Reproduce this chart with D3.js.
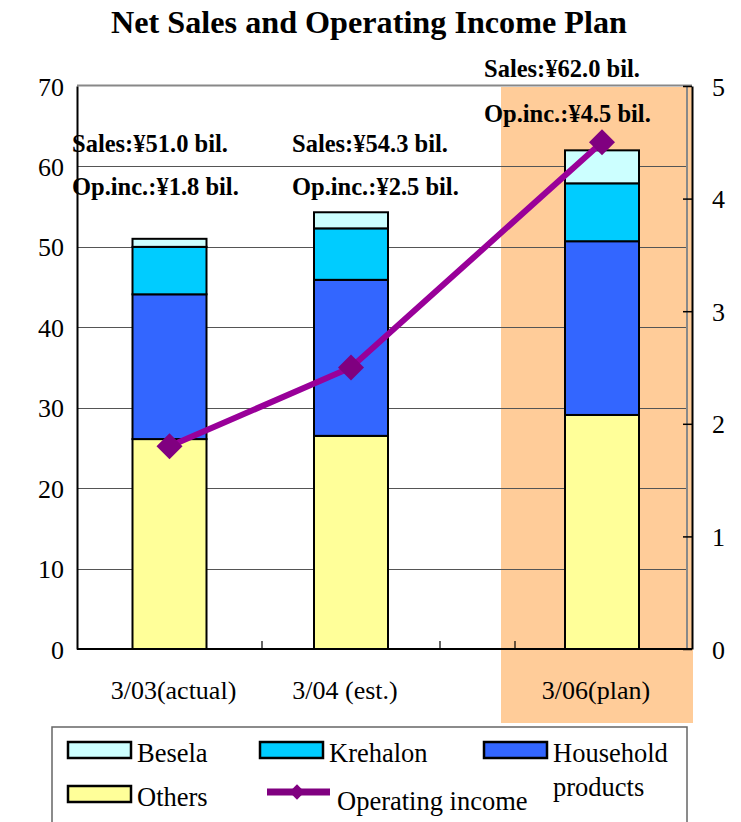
<!DOCTYPE html>
<html>
<head>
<meta charset="utf-8">
<script src="https://cdn.jsdelivr.net/npm/d3@7"></script>
<style>
  html, body { margin: 0; padding: 0; background: #fff; }
  svg { display: block; }
  text { font-family: "Liberation Serif", "Times New Roman", serif; fill: #000; }
</style>
</head>
<body>
<svg id="chart" width="741" height="822"></svg>
<script>
// ---- data (¥ billion) ----
const categories = ["3/03(actual)", "3/04 (est.)", "3/06(plan)"];
const others     = [26.1, 26.5, 29.1];
const household  = [18.0, 19.4, 21.6];
const krehalon   = [5.9, 6.4, 7.2];
const besela     = [1.0, 2.0, 4.1];
const opIncome   = [1.8, 2.5, 4.5];
const leftTicks  = [0, 10, 20, 30, 40, 50, 60, 70];
const rightTicks = [0, 1, 2, 3, 4, 5];

const seriesKeys   = ["others", "household", "krehalon", "besela"];
const seriesNames  = { besela: "Besela", krehalon: "Krehalon", household: "Household products", others: "Others" };
const seriesColors = { others: "#FFFF99", household: "#3366FF", krehalon: "#00CCFF", besela: "#CCFFFF" };
const lineColor = "#990099", markerColor = "#800080", planColor = "#FFCC99";

const rows = categories.map((c, i) => ({
  cat: c, others: others[i], household: household[i], krehalon: krehalon[i], besela: besela[i], op: opIncome[i]
}));

// ---- layout ----
const svg = d3.select("#chart");
const plot = { left: 77, right: 689, top: 86, bottom: 649 };

// category slots along the x axis (a narrow empty slot sits before the plan year)
const slots = [
  { key: categories[0], w: 185 },
  { key: categories[1], w: 178 },
  { key: null,          w: 75 },
  { key: categories[2], w: 174 }
];
let acc = 0;
slots.forEach(s => { s.start = acc; acc += s.w; s.end = acc; s.mid = (s.start + s.end) / 2; });
const x = d3.scaleLinear().domain([0, acc]).range([plot.left, plot.right]);
const slotOf = k => slots.find(s => s.key === k);
const xc = k => x(slotOf(k).mid);
const barW = x(74) - x(0);
const labelShift = [4, -6, -6];

const y  = d3.scaleLinear().domain([0, 70]).range([plot.bottom, plot.top]);
const y2 = d3.scaleLinear().domain([0, 5]).range([plot.bottom, plot.top]);

// title
svg.append("text").attr("x", 369).attr("y", 33).attr("text-anchor", "middle")
  .style("font-size", "32.2px").style("font-weight", "bold")
  .text("Net Sales and Operating Income Plan");

// highlight band behind the plan year
const planSlot = slotOf(categories[2]);
svg.append("rect")
  .attr("x", x(planSlot.start) - 14).attr("y", plot.top + 1)
  .attr("width", x(planSlot.end) - x(planSlot.start) + 18)
  .attr("height", 723 - plot.top - 1)
  .attr("fill", planColor);

// horizontal gridlines
svg.append("g").selectAll("line").data(leftTicks.filter(t => t > 0 && t < 70)).join("line")
  .attr("x1", plot.left).attr("x2", plot.right - 2)
  .attr("y1", d => Math.round(y(d)) + 0.5).attr("y2", d => Math.round(y(d)) + 0.5)
  .attr("stroke", "#555").attr("stroke-width", 1.2);

// plot frame (top and right edges)
svg.append("line").attr("x1", plot.left).attr("x2", plot.right + 3)
  .attr("y1", plot.top - 0.5).attr("y2", plot.top - 0.5)
  .attr("stroke", "#888").attr("stroke-width", 2);
svg.append("line").attr("x1", plot.right - 2).attr("x2", plot.right - 2)
  .attr("y1", plot.top).attr("y2", plot.bottom)
  .attr("stroke", "#888").attr("stroke-width", 2);

// stacked bars
const stack = d3.stack().keys(seriesKeys)(rows);
svg.append("g").selectAll("g").data(stack).join("g")
  .attr("fill", d => seriesColors[d.key])
  .selectAll("rect").data(d => d).join("rect")
  .attr("x", d => xc(d.data.cat) - barW / 2)
  .attr("y", d => y(d[1]))
  .attr("width", barW)
  .attr("height", d => y(d[0]) - y(d[1]))
  .attr("stroke", "#000").attr("stroke-width", 2);

// left axis
const leftAxis = svg.append("g").attr("transform", `translate(${plot.left},0)`)
  .call(d3.axisLeft(y).tickValues(leftTicks).tickSize(0).tickPadding(13));
leftAxis.select(".domain").attr("stroke", "#000").attr("stroke-width", 2);
leftAxis.selectAll("text").style("font-size", "26px")
  .style("font-family", "'Liberation Serif', serif").attr("dy", "0.35em");

// right axis
const rightAxis = svg.append("g").attr("transform", `translate(${plot.right + 3},0)`)
  .call(d3.axisRight(y2).tickValues(rightTicks).tickFormat(d3.format("d")).tickSize(0).tickPadding(20));
rightAxis.select(".domain").attr("stroke", "#000").attr("stroke-width", 2);
rightAxis.selectAll(".tick").append("line")
  .attr("x1", -9).attr("x2", 0).attr("stroke", "#000").attr("stroke-width", 1.5);
rightAxis.selectAll("text").style("font-size", "26px")
  .style("font-family", "'Liberation Serif', serif").attr("dy", "0.35em");

// bottom axis: category labels plus boundary ticks
svg.append("line").attr("x1", plot.left).attr("x2", plot.right + 3)
  .attr("y1", plot.bottom).attr("y2", plot.bottom)
  .attr("stroke", "#000").attr("stroke-width", 2);
svg.append("g").selectAll("line").data(slots.slice(0, -1)).join("line")
  .attr("x1", d => x(d.end)).attr("x2", d => x(d.end))
  .attr("y1", plot.bottom).attr("y2", plot.bottom - 8)
  .attr("stroke", "#000").attr("stroke-width", 1.2);
svg.append("g").selectAll("text").data(categories).join("text")
  .attr("x", (d, i) => xc(d) + labelShift[i]).attr("y", 699)
  .attr("text-anchor", "middle").style("font-size", "26px")
  .text(d => d);

// operating income line with diamond markers
svg.append("path").datum(rows)
  .attr("fill", "none").attr("stroke", lineColor).attr("stroke-width", 6)
  .attr("d", d3.line().x(d => xc(d.cat)).y(d => y2(d.op)));
svg.append("g").selectAll("path").data(rows).join("path")
  .attr("transform", d => `translate(${xc(d.cat)},${y2(d.op)})`)
  .attr("d", d3.symbol(d3.symbolDiamond2, 430))
  .attr("fill", markerColor);

// sales / operating income annotations
const notePos = [
  { x: 72,  y1: 152, y2: 195 },
  { x: 292, y1: 152, y2: 195 },
  { x: 484, y1: 77,  y2: 122 }
];
const notes = svg.append("g").style("font-size", "24.5px").style("font-weight", "bold");
rows.forEach((r, i) => {
  const total = seriesKeys.reduce((s, k) => s + r[k], 0);
  notes.append("text").attr("x", notePos[i].x).attr("y", notePos[i].y1)
    .text(`Sales:¥${total.toFixed(1)} bil.`);
  notes.append("text").attr("x", notePos[i].x).attr("y", notePos[i].y2)
    .text(`Op.inc.:¥${r.op.toFixed(1)} bil.`);
});

// legend
const lg = svg.append("g");
lg.append("rect").attr("x", 52).attr("y", 727).attr("width", 635).attr("height", 110)
  .attr("fill", "#fff").attr("stroke", "#666").attr("stroke-width", 1.5);
const swatches = [
  { key: "besela",    x: 68,  y: 742 },
  { key: "krehalon",  x: 260, y: 742 },
  { key: "household", x: 484, y: 742 },
  { key: "others",    x: 68,  y: 786 }
];
swatches.forEach(s => {
  lg.append("rect").attr("x", s.x).attr("y", s.y).attr("width", 63).attr("height", 16)
    .attr("fill", seriesColors[s.key]).attr("stroke", "#000").attr("stroke-width", 2.5);
  const words = seriesNames[s.key].split(" ");
  const t = lg.append("text").attr("x", s.x + 71).attr("y", s.y + 20).style("font-size", "26.5px");
  words.forEach((w, j) => t.append("tspan").attr("x", s.x + 69).attr("dy", j === 0 ? 0 : 34).text(w));
});
lg.append("line").attr("x1", 267).attr("x2", 330).attr("y1", 792).attr("y2", 792)
  .attr("stroke", markerColor).attr("stroke-width", 7);
lg.append("path").attr("transform", "translate(297,792)")
  .attr("d", d3.symbol(d3.symbolDiamond2, 150)).attr("fill", markerColor);
lg.append("text").attr("x", 337).attr("y", 810).style("font-size", "26.5px").text("Operating income");
</script>
</body>
</html>
